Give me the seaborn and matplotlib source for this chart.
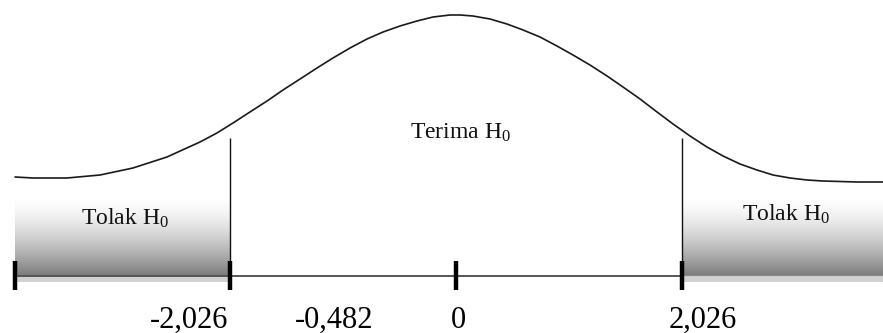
import numpy as np
import pandas as pd
import matplotlib
matplotlib.use("Agg")
import matplotlib.pyplot as plt
import seaborn as sns

# ---- data ----
# curve points: position on the t-axis and curve height above the baseline
curve_x = [-3.953, -3.792, -3.487, -3.191, -2.896, -2.591, -2.295, -2.143, -1.999,
           -1.847, -1.694, -1.551, -1.398, -1.246, -1.103, -0.950, -0.798, -0.654,
           -0.502, -0.350, -0.206, -0.054, 0.036, 0.152, 0.305, 0.457, 0.601,
           0.753, 0.905, 1.049, 1.201, 1.354, 1.497, 1.650, 1.802, 1.946, 2.098,
           2.250, 2.394, 2.546, 2.698, 2.842, 2.994, 3.147, 3.290, 3.595, 3.828]
curve_h = [99, 98, 98, 101, 108, 119, 134, 143, 153,
           164, 175, 186, 197, 208, 218, 228, 237, 244,
           250, 255, 259, 261, 261, 260, 257, 252, 246,
           239, 230, 221, 211, 200, 189, 177, 164, 152, 140,
           129, 120, 112, 106, 101, 98, 96, 95, 94, 94]
critical = [-2.026, 2.026]
tick_values = [-3.95, -2.026, 0, 2.026]
label_texts = ["-2,026", "-0,482", "0", "2,026"]
region_texts = ["Tolak H$_0$", "Terima H$_0$", "Tolak H$_0$"]

# ---- layout ----
label_x = [-2.39, -1.09, 0.02, 2.21]
region_xy = [(-2.97, 58), (0.04, 143), (2.96, 62)]
x_left, x_right = -3.955, 3.83

sns.set_theme(style="white")
plt.rcParams["font.family"] = ["Liberation Serif", "DejaVu Serif"]
plt.rcParams["mathtext.fontset"] = "custom"
plt.rcParams["mathtext.rm"] = "Liberation Serif"
plt.rcParams["mathtext.it"] = "Liberation Serif"

fig = plt.figure(figsize=(8.83, 3.33), dpi=100)
ax = fig.add_axes([0, 0, 1, 1])
ax.set_xlim(-456 / 111.55, 427 / 111.55)
ax.set_ylim(-57, 276)
ax.axis("off")

# gradient fills for rejection regions
top_h, bot_h = 81, -6
rows = np.linspace(top_h, bot_h, 200)
vals = np.where(rows > 0, 1 - 0.52 * ((top_h - rows) / top_h) ** 1.6, 0.82)
grad = np.repeat(vals[:, None], 2, axis=1)
for x0, x1 in [(x_left, critical[0]), (critical[1], x_right)]:
    ax.imshow(grad, cmap="gray", vmin=0, vmax=1, aspect="auto",
              extent=[x0, x1, bot_h, top_h], interpolation="bilinear", zorder=1)

# curve
df = pd.DataFrame({"x": curve_x, "h": curve_h})
sns.lineplot(data=df, x="x", y="h", ax=ax, color="#1a1a1a", linewidth=1.2,
             sort=False, zorder=3)
for ln in ax.lines:
    ln.set_solid_joinstyle("round")

# baseline
ax.plot([x_left, critical[1]], [0, 0], color="#555555", linewidth=1.4, zorder=2)
# critical vertical lines
ax.vlines(critical, 0, 138, color="#111111", linewidth=1.0, zorder=3)
# thick ticks
ax.vlines(tick_values, -14, 15, color="#000000", linewidth=3.2, zorder=4)

ax.set_xlabel("")
ax.set_ylabel("")

for t, x in zip(label_texts, label_x):
    ax.text(x, -44, t, ha="center", va="center", fontsize=22, color="#000000")

for t, (x, y) in zip(region_texts, region_xy):
    ax.text(x, y, t, ha="center", va="center", fontsize=17, color="#111111", zorder=5)

fig.savefig("out.png", dpi=100)
